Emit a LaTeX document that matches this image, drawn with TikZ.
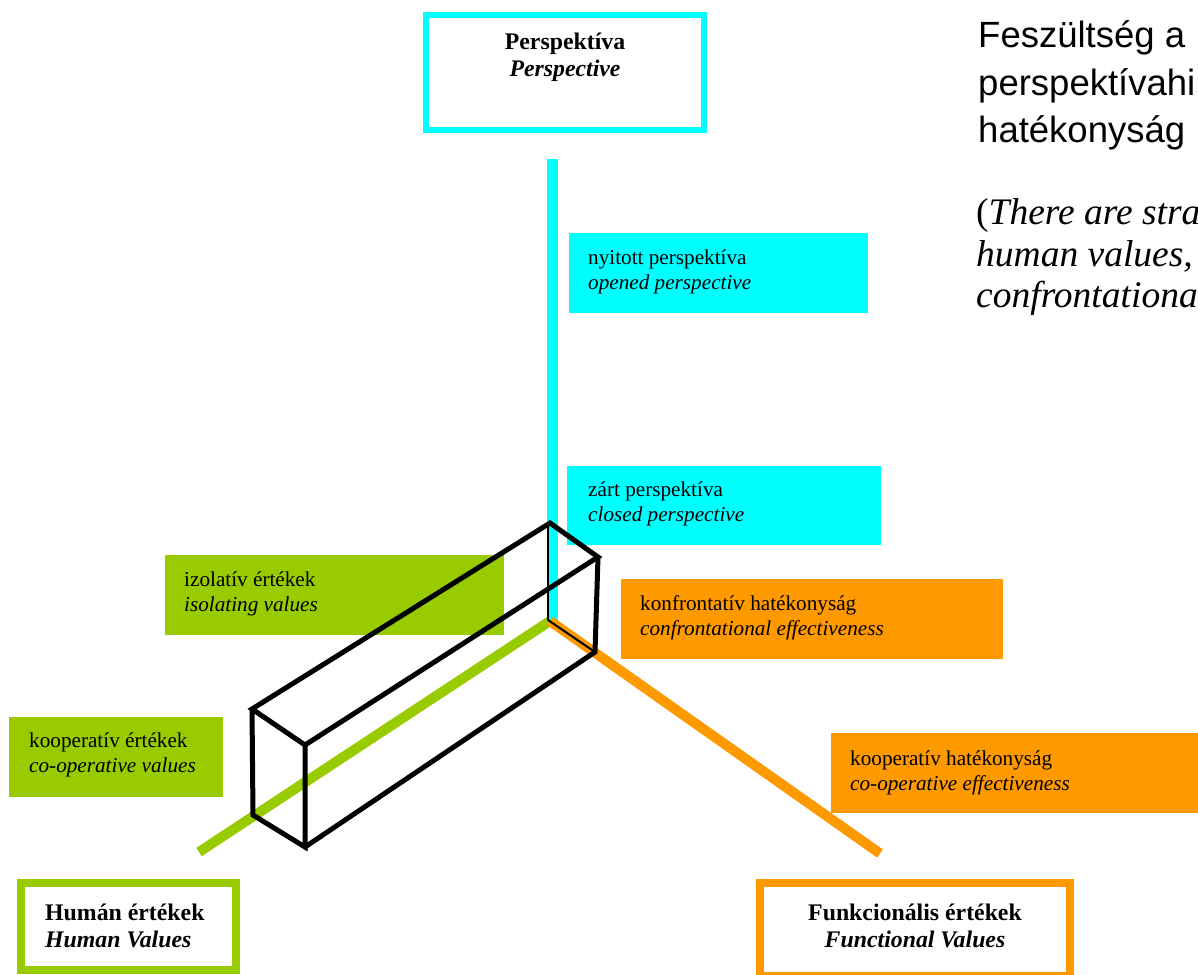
\documentclass[tikz,border=0pt]{standalone}
\usepackage{fontspec}
\setmainfont{Liberation Serif}
\newfontfamily\headfont{Liberation Sans}
\definecolor{pcyan}{HTML}{00FFFF}
\definecolor{pgreen}{HTML}{99CC00}
\definecolor{porange}{HTML}{FF9900}
\newcommand{\twolines}[2]{\vtop{\baselineskip=25pt\hbox{#1}\hbox{\itshape #2}}}
\newcommand{\titlec}[2]{\vtop{\baselineskip=27pt\hbox to 0pt{\hss\bfseries #1\hss}\hbox to 0pt{\hss\bfseries\itshape #2\hss}}}
\newcommand{\titlel}[2]{\vtop{\baselineskip=27pt\hbox{\bfseries #1}\hbox{\bfseries\itshape #2}}}
\begin{document}
\begin{tikzpicture}[x=1pt,y=-1pt,
  lbl/.style={inner sep=0pt, anchor=base west, font=\fontsize{21.2}{25}\selectfont},
  ttl/.style={inner sep=0pt, anchor=base west, font=\fontsize{23.8}{27}\selectfont},
  tag/.style={fill=#1, draw=none, inner sep=0pt, anchor=north west},
  frame/.style={draw=#1, fill=white, inner sep=0pt},
  axisline/.style={draw=#1, line width=11pt, line cap=butt},
  edge/.style={draw=black, line width=5pt, line join=miter},
  hidden/.style={draw=black, line width=2pt},
  head/.style={inner sep=0pt, anchor=base west, font=\headfont\fontsize{36.5}{47}\selectfont},
  ital/.style={inner sep=0pt, anchor=base west, font=\fontsize{37.5}{42}\selectfont}]
\useasboundingbox (0,0) rectangle (1198,974);
\clip (0,0) rectangle (1198,974);

% axes
\coordinate (O) at (552.5,620);
\coordinate (Og) at (550,621);
\coordinate (Ptop) at (552.5,159);
\coordinate (Gend) at (199,852);
\coordinate (Oend) at (880,853.5);
\draw[axisline=pcyan] (O) -- (Ptop);
\draw[axisline=pgreen, line width=10pt] (Og) -- (Gend);
\draw[axisline=porange, line width=10pt] (Og) -- (Oend);

% frames
\node[frame=pcyan, line width=6pt, minimum width=278pt, minimum height=115pt] (persp) at (565,72.5) {};
\node[ttl, anchor=base] (perspT) at (565,50) {\titlec{Perspektíva}{Perspective}};
\node[frame=pgreen, line width=8pt, minimum width=215pt, minimum height=87pt] (human) at (128.5,926.5) {};
\node[ttl] (humanT) at (45,920) {\titlel{Humán értékek}{Human Values}};
\node[frame=porange, line width=8pt, minimum width=309.5pt, minimum height=93pt] (func) at (914.75,929.5) {};
\node[ttl, anchor=base] (funcT) at (915,920) {\titlec{Funkcionális értékek}{Functional Values}};

% tags
\node[tag=pcyan, minimum width=299pt, minimum height=80pt] (nyB) at (569,233) {};
\node[lbl] (nyT) at (588,264) {\twolines{nyitott perspektíva}{opened perspective}};
\node[tag=pcyan, minimum width=314pt, minimum height=79pt] (zaB) at (567,466) {};
\node[lbl] (zaT) at (588,496) {\twolines{zárt perspektíva}{closed perspective}};
\node[tag=pgreen, minimum width=339pt, minimum height=80pt] (izB) at (165,555) {};
\node[lbl] (izT) at (184,586) {\twolines{izolatív értékek}{isolating values}};
\node[tag=porange, minimum width=382pt, minimum height=80pt] (koB) at (621,579) {};
\node[lbl] (koT) at (640,610) {\twolines{konfrontatív hatékonyság}{confrontational effectiveness}};
\node[tag=pgreen, minimum width=214pt, minimum height=80pt] (keB) at (9,717) {};
\node[lbl] (keT) at (29,747) {\twolines{kooperatív értékek}{co-operative values}};
\node[tag=porange, minimum width=380pt, minimum height=80pt] (khB) at (831,733) {};
\node[lbl] (khT) at (850,765) {\twolines{kooperatív hatékonyság}{co-operative effectiveness}};

% cuboid
\coordinate (c1) at (550,523);
\coordinate (c2) at (598,557);
\coordinate (c3) at (595,652);
\coordinate (c0) at (548,620);
\coordinate (d1) at (252,709);
\coordinate (d2) at (305,745);
\coordinate (d3) at (305,847);
\coordinate (d4) at (253,815);
\coordinate (c1h) at (548,523);
\draw[hidden] (c1h) -- (c0);
\draw[hidden] (c0) -- (c3);
\draw[edge] (d1) -- (c1) -- (c2) -- (d2) -- cycle;
\draw[edge] (d1) -- (d4) -- (d3) -- (d2);
\draw[edge] (d3) -- (c3) -- (c2);

% heading
\node[head] (h1) at (978,48) {Feszültség a};
\node[head] (h2) at (978,95) {perspektívahi};
\node[head] (h3) at (978,142) {hatékonyság};
\node[ital] (i1) at (976,224) {(\textit{There are stra}};
\node[ital] (i2) at (976,266) {\textit{human values,}};
\node[ital] (i3) at (976,307) {\textit{confrontationa}};
\end{tikzpicture}
\end{document}
